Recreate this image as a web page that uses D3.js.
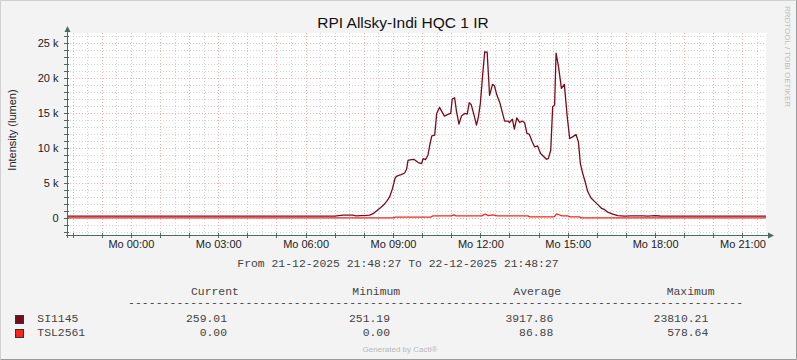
<!DOCTYPE html>
<html>
<head>
<meta charset="utf-8">
<script src="https://cdn.jsdelivr.net/npm/d3@7"></script>
<style>
  html, body { margin: 0; padding: 0; background: #f3f3f3; }
  svg { display: block; }
  .sans { font-family: "Liberation Sans", Arial, sans-serif; }
  .mono { font-family: "Liberation Mono", "DejaVu Sans Mono", monospace; }
</style>
</head>
<body>
<div id="chart"></div>
<script>
// ---- data ----
var rangeStart = '2025-12-21 21:48:27';
var rangeEnd = '2025-12-22 21:48:27';
var day = '2025-12-22';

var siTimes = ['07:00', '07:17', '07:37', '07:44', '08:04', '08:12', '08:19', '08:26', '08:33', '08:40',
  '08:47', '08:53', '08:59', '09:04', '09:07', '09:12', '09:17', '09:24', '09:28', '09:31',
  '09:38', '09:43', '09:52', '09:59', '10:02', '10:07', '10:12', '10:16', '10:20', '10:26',
  '10:30', '10:36', '10:41', '10:46', '10:53', '10:59', '11:02', '11:07', '11:11', '11:16',
  '11:21', '11:28', '11:33', '11:37', '11:41', '11:47', '11:52', '11:56', '12:00', '12:05',
  '12:09', '12:14', '12:19', '12:25', '12:29', '12:34', '12:40', '12:45', '12:50', '12:57',
  '13:00', '13:06', '13:10', '13:15', '13:21', '13:26', '13:31', '13:36', '13:41', '13:47',
  '13:52', '13:58', '14:04', '14:10', '14:16', '14:20', '14:25', '14:29', '14:33', '14:36',
  '14:41', '14:47', '14:53', '14:59', '15:04', '15:10', '15:17', '15:22', '15:26', '15:31',
  '15:36', '15:41', '15:48', '15:55', '16:02', '16:09', '16:16', '16:22', '16:33', '16:43',
  '16:57', '17:10', '17:20', '17:35', '17:45', '18:00', '18:10', '18:20'];
var siValues = [255, 400, 400, 300, 350, 400, 600, 980, 1400, 1800,
  2370, 3000, 4200, 5630, 5960, 6100, 6200, 6440, 6970, 8260,
  8360, 8400, 7930, 7790, 8500, 8360, 8980, 10520, 11750, 11860,
  14970, 15840, 15200, 14590, 14830, 14970, 17030, 17220, 15200, 13440,
  14590, 14970, 14870, 16500, 16270, 14730, 13290, 14490, 16410, 20720,
  23810, 23740, 17550, 19140, 18940, 17600, 16550, 15200, 13870, 13870,
  13680, 14150, 12720, 14340, 13680, 13870, 13680, 12100, 11960, 10890,
  10170, 10320, 9230, 8840, 8410, 8500, 9700, 15920, 16170, 23600,
  21670, 18570, 19140, 14490, 11380, 11610, 11960, 10890, 7790, 6350,
  5140, 3810, 2850, 2370, 1900, 1410, 1180, 830, 550, 320,
  260, 290, 300, 280, 260, 330, 270, 259];
var siStartValue = 255;
var siEndValue = 259.01;

var tslTimes = ['09:00', '09:05', '10:18', '10:22', '11:00', '11:05', '11:10', '12:03', '12:10', '12:16',
  '12:25', '12:35', '13:38', '13:42', '14:32', '14:37', '14:42', '14:48', '15:00', '15:05',
  '15:24', '15:28'];
var tslValues = [0, 120, 120, 280, 280, 420, 290, 300, 560, 330,
  420, 300, 280, 140, 140, 578.64, 450, 290, 280, 160,
  150, 0];

var seriesNames = ['SI1145', 'TSL2561'];
var seriesColors = ['#7a0a1c', '#f8261a'];
var statCurrent = ['259.01', '0.00'];
var statMinimum = ['251.19', '0.00'];
var statAverage = ['3917.86', '86.88'];
var statMaximum = ['23810.21', '578.64'];

var yMajorTicks = [0, 5000, 10000, 15000, 20000, 25000];

// ---- layout ----
var width = 797, height = 360;
var plot = { left: 67, right: 766, top: 33, bottom: 235 };

var parseFull = d3.timeParse('%Y-%m-%d %H:%M:%S');
var parseDay = d3.timeParse('%Y-%m-%d %H:%M');
var t0 = parseFull(rangeStart), t1 = parseFull(rangeEnd);

function build(times, values, first, last) {
  var pts = [{ t: t0, v: first }];
  times.forEach(function (s, i) {
    pts.push({ t: parseDay(day + ' ' + s), v: values[i] });
  });
  pts.push({ t: t1, v: last });
  return pts;
}
var siData = build(siTimes, siValues, siStartValue, siEndValue);
var tslData = build(tslTimes, tslValues, 0, 0);

var de = d3.timeFormatLocale({
  dateTime: '%A, der %e. %B %Y, %X', date: '%d.%m.%Y', time: '%H:%M:%S',
  periods: ['AM', 'PM'],
  days: ['Sonntag', 'Montag', 'Dienstag', 'Mittwoch', 'Donnerstag', 'Freitag', 'Samstag'],
  shortDays: ['So', 'Mo', 'Di', 'Mi', 'Do', 'Fr', 'Sa'],
  months: ['Januar', 'Februar', 'März', 'April', 'Mai', 'Juni', 'Juli', 'August', 'September', 'Oktober', 'November', 'Dezember'],
  shortMonths: ['Jan', 'Feb', 'Mrz', 'Apr', 'Mai', 'Jun', 'Jul', 'Aug', 'Sep', 'Okt', 'Nov', 'Dez']
});

var x = d3.scaleTime().domain([t0, t1]).range([plot.left, plot.right]);
var y = d3.scaleLinear().domain([-2450, 26500]).range([plot.bottom, plot.top]);

var svg = d3.select('#chart').append('svg')
  .attr('width', width).attr('height', height);

svg.append('rect').attr('width', width).attr('height', height).attr('fill', '#f3f3f3');
// frame
svg.append('path').attr('d', 'M0.5,359.5V0.5H796.5').attr('fill', 'none').attr('stroke', '#d0d0d0');
svg.append('path').attr('d', 'M0.5,359.5H796.5V0.5').attr('fill', 'none').attr('stroke', '#9a9a9a');

// plot background
svg.append('rect')
  .attr('x', plot.left).attr('y', plot.top)
  .attr('width', plot.right - plot.left).attr('height', plot.bottom - plot.top)
  .attr('fill', '#ffffff');

var grid = svg.append('g').attr('shape-rendering', 'crispEdges');
var minorColor = '#d2d2d2', majorColor = '#f0b4b4';

// minor grid
var yMinor = d3.range(-2000, 26001, 1000).filter(function (v) { return v % 5000 !== 0; });
grid.selectAll('.hmin').data(yMinor).enter().append('line')
  .attr('x1', plot.left).attr('x2', plot.right)
  .attr('y1', function (d) { return Math.round(y(d)) + 0.5; })
  .attr('y2', function (d) { return Math.round(y(d)) + 0.5; })
  .attr('stroke', minorColor).attr('stroke-dasharray', '1,2');

var xMinor = d3.timeMinute.every(30).range(t0, t1).filter(function (d) { return d.getMinutes() === 30; });
grid.selectAll('.vmin').data(xMinor).enter().append('line')
  .attr('y1', plot.top).attr('y2', plot.bottom)
  .attr('x1', function (d) { return Math.round(x(d)) + 0.5; })
  .attr('x2', function (d) { return Math.round(x(d)) + 0.5; })
  .attr('stroke', minorColor).attr('stroke-dasharray', '1,2');

// major grid
grid.selectAll('.hmaj').data(yMajorTicks).enter().append('line')
  .attr('x1', plot.left).attr('x2', plot.right)
  .attr('y1', function (d) { return Math.round(y(d)) + 0.5; })
  .attr('y2', function (d) { return Math.round(y(d)) + 0.5; })
  .attr('stroke', majorColor).attr('stroke-dasharray', '1,2');

var xMajor = d3.timeHour.range(t0, t1);
grid.selectAll('.vmaj').data(xMajor).enter().append('line')
  .attr('y1', plot.top).attr('y2', plot.bottom)
  .attr('x1', function (d) { return Math.round(x(d)) + 0.5; })
  .attr('x2', function (d) { return Math.round(x(d)) + 0.5; })
  .attr('stroke', majorColor).attr('stroke-dasharray', '1,2');

// lines
svg.append('clipPath').attr('id', 'clip').append('rect')
  .attr('x', plot.left).attr('y', plot.top)
  .attr('width', plot.right - plot.left).attr('height', plot.bottom - plot.top);

var line = d3.line()
  .x(function (d) { return x(d.t); })
  .y(function (d) { return y(d.v); });

var lines = svg.append('g').attr('clip-path', 'url(#clip)');
lines.append('path').datum(siData)
  .attr('d', line).attr('fill', 'none')
  .attr('stroke', seriesColors[0]).attr('stroke-width', 1.3).attr('stroke-linejoin', 'round');
lines.append('path').datum(tslData)
  .attr('d', line).attr('fill', 'none')
  .attr('stroke', seriesColors[1]).attr('stroke-width', 1.3).attr('stroke-linejoin', 'round');

// axes lines + arrows
var axisColor = '#4a6a62';
svg.append('line').attr('x1', plot.left - 1).attr('x2', plot.right + 3)
  .attr('y1', plot.bottom + 0.5).attr('y2', plot.bottom + 0.5)
  .attr('stroke', axisColor).attr('shape-rendering', 'crispEdges');
svg.append('line').attr('x1', plot.left + 0.5).attr('x2', plot.left + 0.5)
  .attr('y1', plot.bottom + 3).attr('y2', plot.top - 3)
  .attr('stroke', axisColor).attr('shape-rendering', 'crispEdges');
svg.append('path')
  .attr('d', 'M' + (plot.right + 2) + ',' + (plot.bottom - 2.5) + 'l6,3l-6,3z')
  .attr('fill', axisColor);
svg.append('path')
  .attr('d', 'M' + (plot.left - 2.5) + ',' + (plot.top - 1) + 'l3,-6l3,6z')
  .attr('fill', axisColor);

// axis tick marks
svg.append('g').selectAll('line').data(xMajor).enter().append('line')
  .attr('x1', function (d) { return Math.round(x(d)) + 0.5; })
  .attr('x2', function (d) { return Math.round(x(d)) + 0.5; })
  .attr('y1', plot.bottom - 2).attr('y2', plot.bottom + 3)
  .attr('stroke', axisColor).attr('shape-rendering', 'crispEdges');
svg.append('g').selectAll('line').data(yMinor.concat(yMajorTicks)).enter().append('line')
  .attr('y1', function (d) { return Math.round(y(d)) + 0.5; })
  .attr('y2', function (d) { return Math.round(y(d)) + 0.5; })
  .attr('x1', plot.left - 3).attr('x2', plot.left + 2)
  .attr('stroke', axisColor).attr('shape-rendering', 'crispEdges');

// axis labels via d3 axes
var xLabelTicks = d3.timeHour.every(3).range(t0, t1);
var xAxis = d3.axisBottom(x).tickValues(xLabelTicks)
  .tickFormat(de.format('%a %H:%M')).tickSize(0).tickPadding(5);
var gx = svg.append('g').attr('transform', 'translate(0,' + plot.bottom + ')').call(xAxis);
gx.select('.domain').remove();
gx.selectAll('text').attr('class', 'sans').attr('font-size', 11).attr('fill', '#222');

var yAxis = d3.axisLeft(y).tickValues(yMajorTicks)
  .tickFormat(function (d) { return d === 0 ? '0' : (d / 1000) + ' k'; })
  .tickSize(0).tickPadding(8.5);
var gy = svg.append('g').attr('transform', 'translate(' + plot.left + ',0)').call(yAxis);
gy.select('.domain').remove();
gy.selectAll('text').attr('class', 'sans').attr('font-size', 11).attr('fill', '#222');

// title and labels
svg.append('text').attr('class', 'sans')
  .attr('x', 403).attr('y', 27.5).attr('text-anchor', 'middle')
  .attr('font-size', 15.5).attr('fill', '#111')
  .text('RPI Allsky-Indi HQC 1 IR');

svg.append('text').attr('class', 'sans')
  .attr('transform', 'translate(16,130) rotate(-90)')
  .attr('text-anchor', 'middle').attr('font-size', 11).attr('fill', '#222')
  .text('Intensity (lumen)');

svg.append('text').attr('class', 'sans')
  .attr('transform', 'translate(785,6) rotate(90)')
  .attr('font-size', 8).attr('fill', '#bdbdbd')
  .text('RRDTOOL / TOBI OETIKER');

svg.append('text').attr('class', 'mono')
  .attr('x', 398).attr('y', 267).attr('text-anchor', 'middle')
  .attr('font-size', 11.4).attr('fill', '#444')
  .text('From 21-12-2025 21:48:27 To 22-12-2025 21:48:27');

// legend table
var legend = svg.append('g').attr('class', 'mono').attr('font-size', 11.4).attr('fill', '#444');
var headers = [['Current', 191], ['Minimum', 352.3], ['Average', 513.3], ['Maximum', 666.7]];
legend.selectAll('.hdr').data(headers).enter().append('text')
  .attr('x', function (d) { return d[1]; }).attr('y', 295)
  .text(function (d) { return d[0]; });
legend.append('text').attr('x', 128).attr('y', 306).attr('textLength', 615)
  .text(d3.range(89).map(function () { return '-'; }).join(''));

var rowY = [322, 336];
seriesNames.forEach(function (name, i) {
  svg.append('rect')
    .attr('x', 15.5).attr('y', rowY[i] - 6.5).attr('width', 8).attr('height', 8)
    .attr('fill', seriesColors[i]).attr('stroke', '#333').attr('stroke-width', 1);
  legend.append('text').attr('x', 37.3).attr('y', rowY[i]).text(name);
  [[statCurrent, 227], [statMinimum, 390], [statAverage, 553.3], [statMaximum, 708.3]].forEach(function (c) {
    legend.append('text').attr('x', c[1]).attr('y', rowY[i]).attr('text-anchor', 'end').text(c[0][i]);
  });
});

svg.append('text').attr('class', 'sans')
  .attr('x', 400).attr('y', 352).attr('text-anchor', 'middle')
  .attr('font-size', 8).attr('fill', '#b8b8b8')
  .text('Generated by Cacti®');
</script>
</body>
</html>
